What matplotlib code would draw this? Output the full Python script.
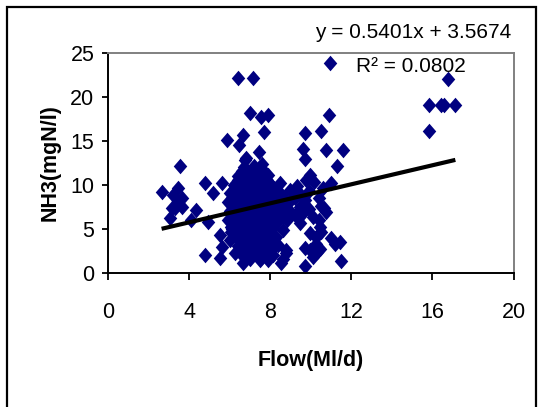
import matplotlib
matplotlib.use("Agg")
import matplotlib.pyplot as plt
from matplotlib.patches import Rectangle
import numpy as np

plt.rcParams['font.family'] = ['Liberation Sans Narrow', 'Liberation Sans', 'DejaVu Sans']

# Flow (Ml/d) and NH3 (mgN/l) samples
flow = [
    2.63, 3.05, 3.12, 3.20, 3.45, 3.45, 3.53, 3.62, 3.62, 3.29,
    4.10, 4.35, 4.76, 4.93, 4.76, 5.17, 5.59, 5.50, 5.59, 5.50, 5.85,
    6.40, 7.14, 6.98, 7.56, 7.88, 7.68, 6.65, 6.45, 7.42, 6.82, 6.73, 7.58,
    6.08, 6.00, 6.08, 6.24, 6.65, 7.47, 7.56, 8.13, 8.13, 8.54, 8.62, 6.47,
    6.7, 7.2, 7.6,
    6.6, 7.1, 7.6,
    6.4, 6.9, 7.4, 7.9,
    6.4, 6.9, 7.4, 7.85,
    6.2, 6.7, 7.1, 7.6, 8.0,
    6.2, 6.7, 7.2, 7.7, 8.2,
    6.0, 6.5, 7.0, 7.5, 8.0, 8.5,
    6.1, 6.6, 7.2, 7.7, 8.2, 8.7,
    5.9, 6.4, 6.9, 7.4, 7.9, 8.4, 8.9,
    6.2, 6.7, 7.2, 7.7, 8.2, 8.7,
    6.0, 6.5, 7.0, 7.5, 8.0, 8.5, 8.9,
    6.1, 6.6, 7.2, 7.7, 8.2, 8.6,
    5.9, 6.4, 6.9, 7.4, 7.9, 8.4, 8.8,
    6.3, 6.8, 7.3, 7.8, 8.3,
    6.1, 6.6, 7.1, 7.6, 8.1, 8.6,
    6.5, 7.0, 7.5, 8.0,
    6.3, 6.8, 7.3, 7.8, 8.3,
    6.6, 7.1, 7.6, 8.1,
    6.4, 6.9, 7.4, 7.9, 8.4,
    6.8, 7.3, 7.8,
    6.6, 7.1, 7.6, 8.0,
    7.0, 7.9,
    8.46, 8.95, 8.62, 8.87, 8.79, 8.78,
    9.12, 9.44, 9.44, 9.60, 9.69, 9.72, 9.94, 9.77,
    10.15, 10.10, 10.43, 10.27, 9.97, 9.94, 10.10, 9.72,
    10.23, 10.32, 9.72, 10.40, 10.76, 10.40, 9.72, 9.55,
    10.48, 10.76, 11.56, 11.30, 10.88, 10.92,
    11.00, 11.00, 11.45, 11.17, 11.50, 10.50, 10.45,
    9.20, 9.50, 9.20, 10.65,
    9.30, 9.90, 10.60, 9.90, 10.50,
    16.79, 15.85, 16.42, 16.58, 17.13, 15.85,
]
nh3 = [
    9.2, 6.2, 7.4, 8.8, 9.6, 8.1, 12.1, 8.45, 7.5, 7.3,
    6.0, 7.1, 10.2, 5.8, 2.0, 9.0, 10.2, 4.3, 2.95, 1.64, 15.1,
    22.1, 22.1, 18.1, 17.7, 17.9, 16.0, 15.6, 14.5, 13.75, 13.0, 12.8, 12.4,
    4.66, 3.7, 5.2, 2.2, 1.07, 1.44, 1.64, 2.0, 2.77, 1.07, 1.6, 3.0,
    12.0, 12.1, 11.8,
    11.5, 11.6, 11.4,
    11.0, 11.2, 11.0, 11.1,
    10.5, 10.6, 10.4, 10.5,
    10.0, 10.1, 9.9, 10.0, 10.1,
    9.5, 9.6, 9.4, 9.5, 9.6,
    9.0, 9.1, 8.9, 9.0, 9.1, 8.9,
    8.5, 8.6, 8.4, 8.5, 8.6, 8.4,
    8.0, 7.9, 8.1, 8.0, 7.9, 8.1, 8.0,
    7.5, 7.6, 7.4, 7.5, 7.6, 7.4,
    7.0, 7.1, 6.9, 7.0, 7.1, 6.9, 7.1,
    6.5, 6.6, 6.4, 6.5, 6.6, 6.4,
    6.0, 6.1, 5.9, 6.0, 6.1, 5.9, 6.0,
    5.5, 5.6, 5.4, 5.5, 5.6,
    5.0, 5.1, 4.9, 5.0, 5.1, 4.9,
    4.5, 4.6, 4.4, 4.5,
    4.0, 4.1, 3.9, 4.0, 4.1,
    3.5, 3.6, 3.4, 3.5,
    3.0, 3.1, 2.9, 3.0, 3.1,
    2.5, 2.6, 2.4,
    2.0, 2.1, 2.0, 2.2,
    1.5, 1.4,
    10.2, 9.4, 7.9, 6.36, 2.6, 2.2,
    9.0, 7.5, 5.6, 14.1, 12.9, 15.9, 11.1, 10.5,
    10.3, 6.36, 5.2, 4.1, 4.5, 2.6, 1.8, 0.8,
    3.3, 2.4, 2.8, 8.45, 6.9, 6.0, 8.3, 6.7,
    16.1, 13.9, 13.9, 12.1, 17.9, 23.8,
    10.2, 3.9, 3.5, 3.3, 1.36, 4.66, 2.7,
    8.5, 8.8, 6.5, 7.4,
    9.8, 9.3, 9.6, 7.2, 7.6,
    22.0, 19.0, 19.0, 19.0, 19.0, 16.1,
]

# Linear trend: y = 0.5401x + 3.5674, R^2 = 0.0802
slope = 0.5401
intercept = 3.5674
r_squared = 0.0802

x_ticks = [0, 4, 8, 12, 16, 20]
y_ticks = [0, 5, 10, 15, 20, 25]

navy = '#000080'
fs = 15.5

fig = plt.figure(figsize=(5.44, 4.07), dpi=100)
ax = fig.add_axes([108.3 / 544, 1 - 272.7 / 407, (513.5 - 108.3) / 544, (272.7 - 52.7) / 407])

diamond = [(0, 1), (0.87, 0), (0, -1), (-0.87, 0), (0, 1)]
ax.plot(flow, nh3, linestyle='none', marker=diamond, markersize=11.2,
        markerfacecolor=navy, markeredgewidth=0, zorder=2)

xs = np.array([min(flow), max(flow)])
ax.plot(xs, slope * xs + intercept, color='black', linewidth=3.0,
        solid_capstyle='butt', zorder=3)

ax.set_xlim(0, 20)
ax.set_ylim(0, 25)
ax.set_xticks(x_ticks)
ax.set_yticks(y_ticks)
ax.set_xticklabels([str(t) for t in x_ticks], fontsize=fs)
ax.set_yticklabels([str(t) for t in y_ticks], fontsize=fs)
ax.tick_params(axis='x', direction='out', length=5, width=1.3, pad=16)
ax.tick_params(axis='y', direction='out', length=4, width=1.3, pad=6)

for side in ('left', 'bottom'):
    ax.spines[side].set_color('black')
    ax.spines[side].set_linewidth(1.4)
for side in ('top', 'right'):
    ax.spines[side].set_color('#808080')
    ax.spines[side].set_linewidth(1.4)

ax.set_xlabel('Flow(Ml/d)', fontsize=fs, fontweight='bold')
ax.set_ylabel('NH3(mgN/l)', fontsize=fs, fontweight='bold')
ax.xaxis.set_label_coords(0.5, -0.351)
ax.yaxis.set_label_coords(-0.117, 0.5)

fig.text(413 / 544, 1 - 32 / 407, f'y = {slope}x + {intercept}', fontsize=15,
         ha='center', va='center')
fig.text(411 / 544, 1 - 66 / 407, f'R\u00b2 = {r_squared}', fontsize=15,
         ha='center', va='center')

# Chart frame
top = 1 - 7 / 407
fig.patches.append(Rectangle((7 / 544, -0.05), (536 - 7) / 544, top + 0.05,
                             transform=fig.transFigure, fill=False,
                             edgecolor='black', linewidth=1.6))

fig.savefig('out.png', dpi=100)
